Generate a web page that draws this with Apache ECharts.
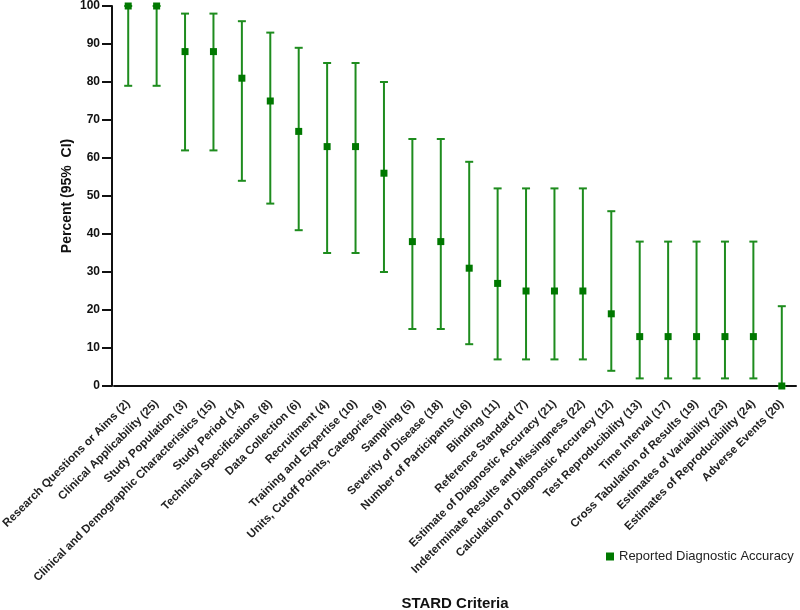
<!DOCTYPE html>
<html>
<head>
<meta charset="utf-8">
<script src="https://cdn.jsdelivr.net/npm/echarts@6/dist/echarts.min.js"></script>
<style>html,body{margin:0;padding:0;background:#fff}#c{width:800px;height:610px}</style>
</head>
<body>
<div id="c"></div>
<script>
const categories = [
  "Research Questions or Aims (2)",
  "Clinical Applicability (25)",
  "Study Population (3)",
  "Clinical and Demographic Characteristics (15)",
  "Study Period (14)",
  "Technical Specifications (8)",
  "Data Collection (6)",
  "Recruitment (4)",
  "Training and Expertise (10)",
  "Units, Cutoff Points, Categories (9)",
  "Sampling (5)",
  "Severity of Disease (18)",
  "Number of Participants (16)",
  "Blinding (11)",
  "Reference Standard (7)",
  "Estimate of Diagnostic Accuracy (21)",
  "Indeterminate Results and Missingness (22)",
  "Calculation of Diagnostic Accuracy (12)",
  "Test Reproducibility (13)",
  "Time Interval (17)",
  "Cross Tabulation of Results (19)",
  "Estimates of Variability (23)",
  "Estimates of Reproducibility (24)",
  "Adverse Events (20)"
];
const percent = [100, 100, 88, 88, 81, 75, 67, 63, 63, 56, 38, 38, 31, 27, 25, 25, 25, 19, 13, 13, 13, 13, 13, 0];
const ciLow   = [79, 79, 62, 62, 54, 48, 41, 35, 35, 30, 15, 15, 11, 7, 7, 7, 7, 4, 2, 2, 2, 2, 2, 0];
const ciHigh  = [100, 100, 98, 98, 96, 93, 89, 85, 85, 80, 65, 65, 59, 52, 52, 52, 52, 46, 38, 38, 38, 38, 38, 21];
const yTicks = [0, 10, 20, 30, 40, 50, 60, 70, 80, 90, 100];

const FONT = 'Arial, "Liberation Sans", sans-serif';
const barColor = '#1e8c1e';
const markColor = '#007800';

const chart = echarts.init(document.getElementById('c'));
const errData = categories.map((c, i) => [i, ciLow[i], ciHigh[i]]);

chart.setOption({
  animation: false,
  textStyle: { fontFamily: FONT },
  grid: { left: 114, right: 4, top: 6, bottom: 224, containLabel: false, outerBoundsMode: 'none' },
  legend: {
    data: [{ name: 'Reported Diagnostic Accuracy', icon: 'rect' }],
    left: 601, top: 545,
    itemWidth: 8, itemHeight: 8, itemGap: 10,
    textStyle: { fontFamily: FONT, fontSize: 13, color: '#222' }
  },
  xAxis: {
    type: 'category',
    data: categories,
    boundaryGap: true,
    name: 'STARD Criteria',
    nameLocation: 'middle',
    nameGap: 210,
    nameTextStyle: { fontFamily: FONT, fontWeight: 'bold', fontSize: 15, color: '#111' },
    axisLine: { lineStyle: { color: '#111', width: 2 } },
    axisTick: { alignWithLabel: true, length: 8, lineStyle: { color: '#111', width: 2 } },
    axisLabel: { interval: 0, rotate: 45, fontFamily: FONT, fontWeight: 'bold', fontSize: 11.5, color: '#222', margin: 16 },
    splitLine: { show: false }
  },
  yAxis: {
    type: 'value',
    min: 0, max: 100, interval: 10,
    offset: 2,
    name: 'Percent (95%  CI)',
    nameLocation: 'middle',
    nameGap: 38,
    nameMoveOverlap: false,
    nameTextStyle: { fontFamily: FONT, fontWeight: 'bold', fontSize: 14, color: '#111' },
    axisLine: { show: true, lineStyle: { color: '#111', width: 2 } },
    axisTick: { show: true, length: 10, lineStyle: { color: '#111', width: 2 } },
    axisLabel: {
      fontFamily: FONT, fontWeight: 'bold', fontSize: 12, color: '#111', margin: 12,
      formatter: v => yTicks.includes(v) ? String(v) : ''
    },
    splitLine: { show: false }
  },
  series: [
    {
      type: 'custom',
      name: 'CI',
      data: errData,
      z: 2,
      renderItem: function (params, api) {
        const x = api.value(0);
        const lo = api.coord([x, api.value(1)]);
        const hi = api.coord([x, api.value(2)]);
        const hw = 4;
        const st = { stroke: barColor, lineWidth: 2 };
        return {
          type: 'group',
          children: [
            { type: 'line', shape: { x1: lo[0], y1: lo[1], x2: hi[0], y2: hi[1] }, style: st },
            { type: 'line', shape: { x1: lo[0] - hw, y1: lo[1], x2: lo[0] + hw, y2: lo[1] }, style: st },
            { type: 'line', shape: { x1: hi[0] - hw, y1: hi[1], x2: hi[0] + hw, y2: hi[1] }, style: st }
          ]
        };
      },
      encode: { x: 0, y: [1, 2] }
    },
    {
      type: 'scatter',
      name: 'Reported Diagnostic Accuracy',
      data: percent,
      symbol: 'rect',
      symbolSize: 7,
      z: 3,
      itemStyle: { color: markColor, opacity: 1 }
    }
  ]
});
</script>
</body>
</html>
